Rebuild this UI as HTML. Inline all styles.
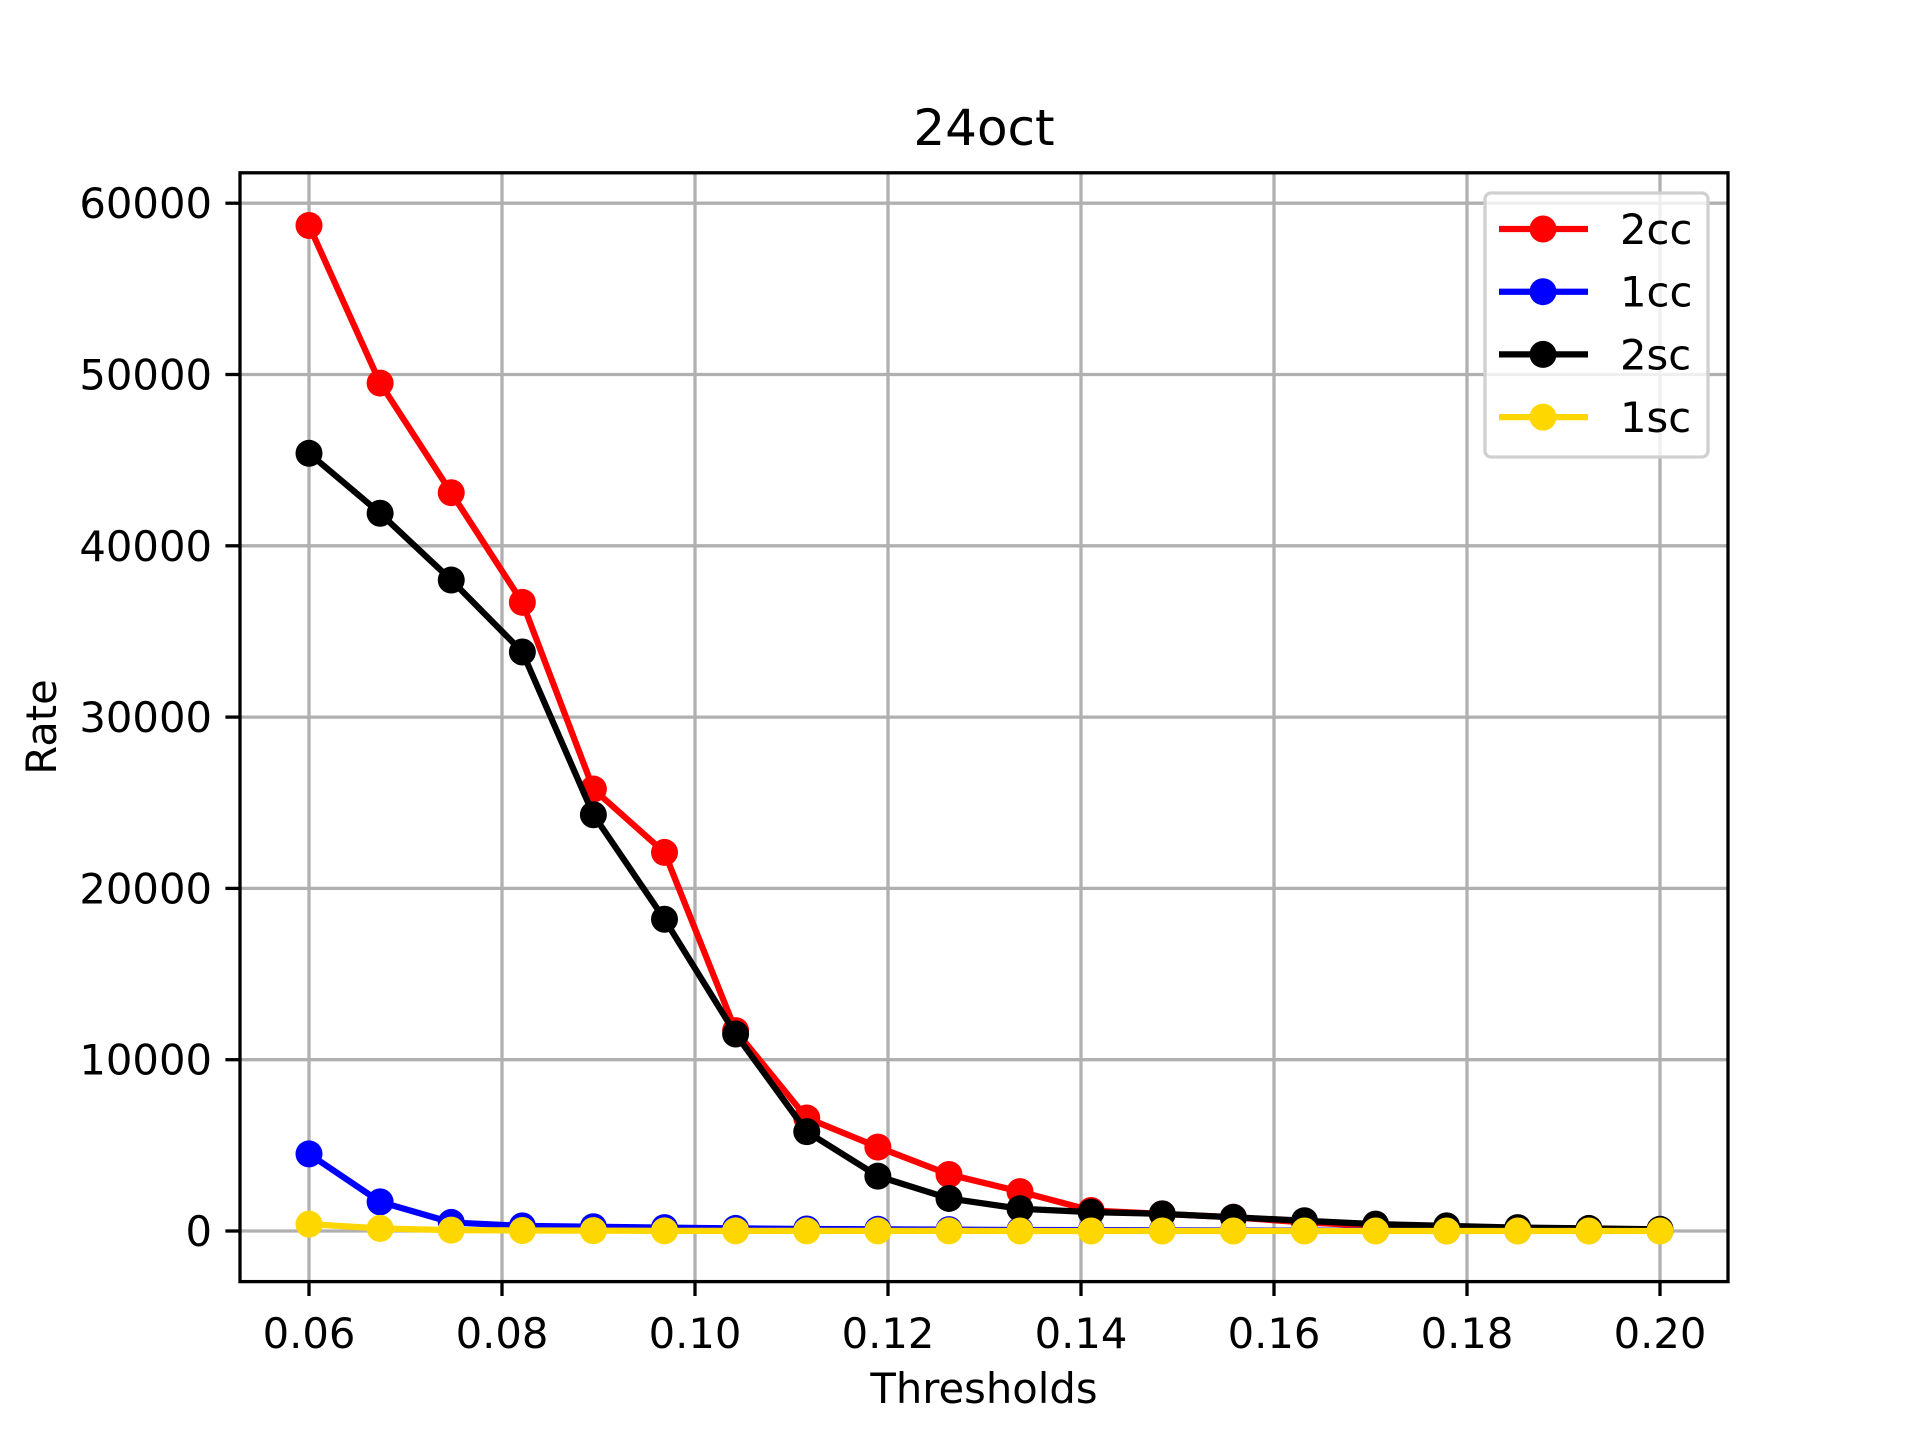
<!DOCTYPE html>
<html><head><meta charset="utf-8"><style>
body{margin:0;background:#fff}
svg{display:block;font-family:"DejaVu Sans","Liberation Sans",sans-serif}
</style></head><body>
<svg id="chart" width="1920" height="1440" viewBox="0 0 1920 1440" xmlns="http://www.w3.org/2000/svg">
<rect width="1920" height="1440" fill="#fff"/>
<g id="grid"></g>
<g id="series"></g>
<rect x="240" y="172.8" width="1488" height="1108.8" fill="none" stroke="#000" stroke-width="3.3"/>
<g id="ticks"></g>
<text x="984" y="145" font-size="50" text-anchor="middle">24oct</text>
<text x="984" y="1403" font-size="41.7" text-anchor="middle">Thresholds</text>
<text transform="translate(56,727) rotate(-90)" font-size="41.7" text-anchor="middle">Rate</text>
<g id="legend">
<rect x="1485" y="193" width="223" height="264" rx="6" fill="#fff" fill-opacity="0.8" stroke="#d0d0d0" stroke-width="3.3"/>
</g>
</svg>
<script>
const xs = [0.06,0.06737,0.07474,0.08211,0.08947,0.09684,0.10421,0.11158,0.11895,0.12632,0.13368,0.14105,0.14842,0.15579,0.16316,0.17053,0.17789,0.18526,0.19263,0.2];
const s2cc = [58700,49500,43100,36700,25800,22100,11700,6600,4900,3300,2300,1200,1000,800,500,300,200,150,100,50];
const s1cc = [4500,1700,500,300,250,200,150,120,100,80,60,50,40,30,20,20,10,10,10,10];
const s2sc = [45400,41900,38000,33800,24300,18200,11500,5800,3200,1900,1300,1100,1000,800,600,400,300,200,150,100];
const s1sc = [400,150,50,30,20,10,10,5,5,5,0,0,0,0,0,0,0,0,0,0];
const seriesNames = ['2cc','1cc','2sc','1sc'];
const seriesColors = ['#ff0000','#0000ff','#000000','#ffd700'];
const xTicks = [0.06,0.08,0.10,0.12,0.14,0.16,0.18,0.20];
const xTickLabels = ['0.06','0.08','0.10','0.12','0.14','0.16','0.18','0.20'];
const yTicks = [0,10000,20000,30000,40000,50000,60000];
const yTickLabels = ['0','10000','20000','30000','40000','50000','60000'];

const NS='http://www.w3.org/2000/svg';
const X = v => 309 + (v-0.06)/0.02*193;
const Y = v => 1231 - v/10000*171.3;
function mk(tag, attrs, parent){const e=document.createElementNS(NS,tag);for(const k in attrs)e.setAttribute(k,attrs[k]);parent.appendChild(e);return e;}
const grid=document.getElementById('grid'), ticks=document.getElementById('ticks'), ser=document.getElementById('series'), leg=document.getElementById('legend');
xTicks.forEach((t,i)=>{
  const g=mk('line',{x1:X(t),x2:X(t),y1:172.8,y2:1281.6,stroke:'#b0b0b0','stroke-width':3.3},grid);
  
  
  const tk=mk('line',{x1:X(t),x2:X(t),y1:1281.6,y2:1296,stroke:'#000','stroke-width':3.3},ticks);
  
  
  const tx=mk('text',{x:X(t),y:1348,'font-size':41.7,'text-anchor':'middle'},ticks);
  tx.textContent=xTickLabels[i];
  
  
});
yTicks.forEach((t,i)=>{
  const g=mk('line',{x1:240,x2:1728,y1:Y(t),y2:Y(t),stroke:'#b0b0b0','stroke-width':3.3},grid);
  
  
  const tk=mk('line',{x1:225.4,x2:240,y1:Y(t),y2:Y(t),stroke:'#000','stroke-width':3.3},ticks);
  
  
  const tx=mk('text',{x:212,y:Y(t)+15,'font-size':41.7,'text-anchor':'end'},ticks);
  tx.textContent=yTickLabels[i];
  
  
});
[s2cc,s1cc,s2sc,s1sc].forEach((data,si)=>{
  const c=seriesColors[si];
  const g=mk('g',{},ser);
  
  
  const pl=mk('polyline',{points:data.map((v,i)=>X(xs[i])+','+Y(v)).join(' '),fill:'none',stroke:c,'stroke-width':6.25,'stroke-linejoin':'round'},g);
  
  
  data.forEach((v,i)=>{
    const p=mk('circle',{cx:X(xs[i]),cy:Y(v),r:13.5,fill:c},g);
    
    
  });
  const ly=229+si*62.7;
  const e=mk('g',{},leg);
  
  
  mk('line',{x1:1499,x2:1588,y1:ly,y2:ly,stroke:c,'stroke-width':6.25},e);
  mk('circle',{cx:1543,cy:ly,r:13.5,fill:c},e);
  const t=mk('text',{x:1620,y:ly+15,'font-size':41.7},e);
  t.textContent=seriesNames[si];
});
</script>
</body></html>
